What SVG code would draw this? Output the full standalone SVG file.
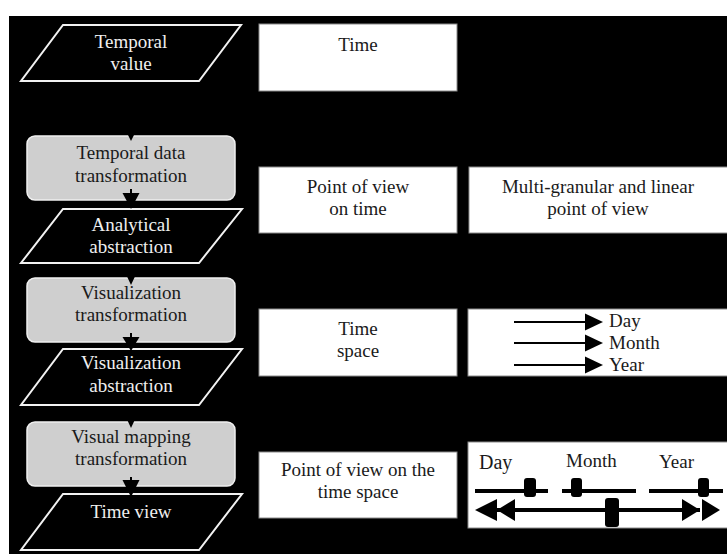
<svg xmlns="http://www.w3.org/2000/svg" width="727" height="554" viewBox="0 0 727 554">
<style>
text{font-family:"Liberation Serif","Times New Roman",serif;font-size:19px;text-anchor:middle}
.lt{fill:#efefef}
.dk{fill:#1a1a1a}
.para{fill:#000;stroke:#f2f2f2;stroke-width:2}
.proc{fill:#cfcfcf;stroke:#f0f0f0;stroke-width:1.5}
.box{fill:#fff;stroke:#8a8a8a;stroke-width:1}
.con{stroke:#000;stroke-width:2;fill:none}
.ah{fill:#000}
.bar{stroke:#000;stroke-width:4}
.st{text-anchor:start}
</style>
<rect x="0" y="0" width="727" height="554" fill="#fff"/>
<rect x="9" y="16" width="718" height="538" fill="#000"/>

<g id="temporal-value">
<polygon class="para" points="63,25 241,25 199,81 21,81"/>
<text class="lt" x="131" y="48">Temporal</text>
<text class="lt" x="131" y="70">value</text>
</g>
<g id="temporal-data-transformation">
<rect class="proc" x="27" y="136" width="208" height="64" rx="8"/>
<text class="dk" x="131" y="159">Temporal data</text>
<text class="dk" x="131" y="182">transformation</text>
</g>
<g id="analytical-abstraction">
<polygon class="para" points="63,209 242,209 199,263 21,263"/>
<text class="lt" x="131" y="231">Analytical</text>
<text class="lt" x="131" y="253">abstraction</text>
</g>
<g id="visualization-transformation">
<rect class="proc" x="27" y="278" width="208" height="64" rx="8"/>
<text class="dk" x="131" y="299">Visualization</text>
<text class="dk" x="131" y="321">transformation</text>
</g>
<g id="visualization-abstraction">
<polygon class="para" points="63,349 242,349 199,405 21,405"/>
<text class="lt" x="131" y="369">Visualization</text>
<text class="lt" x="131" y="392">abstraction</text>
</g>
<g id="visual-mapping-transformation">
<rect class="proc" x="27" y="422" width="208" height="64" rx="8"/>
<text class="dk" x="131" y="443">Visual mapping</text>
<text class="dk" x="131" y="465">transformation</text>
</g>
<g id="time-view">
<polygon class="para" points="63,494 242,494 199,550 21,550"/>
<text class="lt" x="131" y="518">Time view</text>
</g>

<g id="time">
<rect class="box" x="259" y="24" width="198" height="67"/>
<text class="dk" x="358" y="51">Time</text>
</g>
<g id="point-of-view-on-time">
<rect class="box" x="259" y="167" width="198" height="66"/>
<text class="dk" x="358" y="193">Point of view</text>
<text class="dk" x="358" y="215">on time</text>
</g>
<g id="multi-granular">
<rect class="box" x="469" y="167" width="262" height="66"/>
<text class="dk" x="598" y="193">Multi-granular and linear</text>
<text class="dk" x="598" y="215">point of view</text>
</g>
<g id="time-space">
<rect class="box" x="259" y="309" width="198" height="67"/>
<text class="dk" x="358" y="335">Time</text>
<text class="dk" x="358" y="357">space</text>
</g>
<g id="granularity-axes">
<rect class="box" x="468" y="309" width="263" height="67"/>
<line class="con" x1="514" y1="322" x2="587" y2="322"/>
<polygon class="ah" points="585,313.5 603,322 585,330.5"/>
<line class="con" x1="514" y1="343" x2="587" y2="343"/>
<polygon class="ah" points="585,334.5 603,343 585,351.5"/>
<line class="con" x1="514" y1="365" x2="587" y2="365"/>
<polygon class="ah" points="585,356.5 603,365 585,373.5"/>
<text class="dk st" x="609" y="327">Day</text>
<text class="dk st" x="609" y="349">Month</text>
<text class="dk st" x="609" y="371">Year</text>
</g>
<g id="point-of-view-on-the-time-space">
<rect class="box" x="259" y="452" width="198" height="66"/>
<text class="dk" x="358" y="476">Point of view on the</text>
<text class="dk" x="358" y="498">time space</text>
</g>
<g id="sliders">
<rect class="box" x="468" y="442" width="263" height="86"/>
<text class="dk st" x="479" y="469" style="font-size:20px">Day</text>
<text class="dk st" x="566" y="467">Month</text>
<text class="dk st" x="659" y="468">Year</text>
<line class="bar" x1="475" y1="491" x2="548" y2="491"/>
<rect class="ah" x="524" y="478" width="12" height="19" rx="3"/>
<line class="bar" x1="562" y1="491" x2="636" y2="491"/>
<rect class="ah" x="571" y="478" width="11" height="19" rx="3"/>
<line class="bar" x1="649" y1="491" x2="723" y2="491"/>
<rect class="ah" x="698" y="478" width="11" height="19" rx="3"/>
<line class="bar" x1="497" y1="510" x2="700" y2="510"/>
<polygon class="ah" points="475,510 497,499 497,521"/>
<polygon class="ah" points="497,510 515,499 515,521"/>
<polygon class="ah" points="720,510 702,499 702,521"/>
<polygon class="ah" points="700,510 682,499 682,521"/>
<rect class="ah" x="605" y="498" width="14" height="29" rx="3"/>
</g>

<g id="connectors">
<line class="con" x1="131" y1="82" x2="131" y2="128"/>
<polygon class="ah" points="124,127 138,127 131,141"/>
<line class="con" x1="131" y1="189" x2="131" y2="195"/>
<polygon class="ah" points="122.5,193 139.5,193 131,209"/>
<line class="con" x1="131" y1="264" x2="131" y2="271"/>
<polygon class="ah" points="124,270 138,270 131,285"/>
<line class="con" x1="131" y1="333" x2="131" y2="339"/>
<polygon class="ah" points="122.5,337 139.5,337 131,351"/>
<line class="con" x1="131" y1="406" x2="131" y2="414"/>
<polygon class="ah" points="124,413 138,413 131,428"/>
<line class="con" x1="131" y1="477" x2="131" y2="482"/>
<polygon class="ah" points="122.5,480 139.5,480 131,497"/>
<line class="con" x1="358" y1="92" x2="358" y2="155"/>
<polygon class="ah" points="352,154 364,154 358,166"/>
<line class="con" x1="358" y1="234" x2="358" y2="297"/>
<polygon class="ah" points="352,296 364,296 358,308"/>
<line class="con" x1="358" y1="377" x2="358" y2="440"/>
<polygon class="ah" points="352,439 364,439 358,451"/>
<line class="con" x1="598" y1="234" x2="598" y2="297"/>
<polygon class="ah" points="592,296 604,296 598,308"/>
<line class="con" x1="598" y1="377" x2="598" y2="430"/>
<polygon class="ah" points="592,429 604,429 598,441"/>
</g>
</svg>
